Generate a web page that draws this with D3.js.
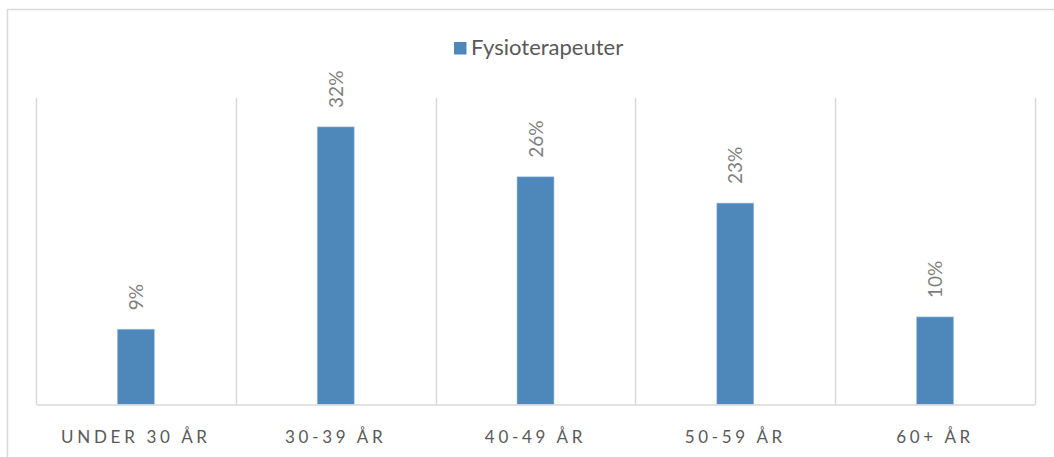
<!DOCTYPE html>
<html>
<head>
<meta charset="utf-8">
<script src="https://cdn.jsdelivr.net/npm/d3@7"></script>
<style>
  html, body { margin: 0; padding: 0; background: #fff; }
  svg { display: block; }
</style>
</head>
<body>
<svg id="chart" width="1054" height="457"></svg>
<script>
const categories = ["UNDER 30 ÅR", "30-39 ÅR", "40-49 ÅR", "50-59 ÅR", "60+ ÅR"];
const values = [8.6, 31.7, 26.0, 23.0, 10.0];
const valueLabels = ["9%", "32%", "26%", "23%", "10%"];
const seriesName = "Fysioterapeuter";
const yMax = 35;

const W = 1054, H = 457;
const svg = d3.select("#chart");
const font = "Lato, 'Open Sans', sans-serif";
const barColor = "#4e88bb";
const gridColor = "#d9d9d9";
const textColor = "#595959";

// chart border
svg.append("rect")
  .attr("x", 7.5).attr("y", 9.5)
  .attr("width", W + 10).attr("height", H + 10)
  .attr("fill", "#fff").attr("stroke", gridColor).attr("stroke-width", 1.5);

const plot = { left: 36, right: 1035, top: 98, bottom: 404.5 };

const x = d3.scaleBand().domain(categories).range([plot.left, plot.right]).padding(0);
const y = d3.scaleLinear().domain([0, yMax]).range([plot.bottom, plot.top]);

// vertical gridlines at category boundaries
const bounds = categories.map(c => x(c)).concat([plot.right]);
svg.append("g").selectAll("line").data(bounds).join("line")
  .attr("x1", d => Math.round(d) + 0.5).attr("x2", d => Math.round(d) + 0.5)
  .attr("y1", plot.top).attr("y2", plot.bottom)
  .attr("stroke", gridColor).attr("stroke-width", 1.5);

// bars
const barW = x.bandwidth() * 0.185;
svg.append("g").selectAll("rect").data(values).join("rect")
  .attr("x", (d, i) => x(categories[i]) + (x.bandwidth() - barW) / 2)
  .attr("y", d => y(d))
  .attr("width", barW)
  .attr("height", d => y(0) - y(d))
  .attr("fill", barColor)
  .attr("stroke", "#a9c4e0").attr("stroke-width", 0.6);

// baseline axis
const xAxis = d3.axisBottom(x).tickSize(0).tickPadding(0);
const ax = svg.append("g").attr("transform", `translate(0,${plot.bottom})`).call(xAxis);
ax.select(".domain").attr("stroke", gridColor).attr("stroke-width", 1.5);
ax.selectAll("text")
  .attr("dy", null)
  .attr("y", 38)
  .attr("fill", textColor)
  .style("font-family", font)
  .style("font-size", "17px")
  .style("letter-spacing", "3.7px");

// value labels (rotated)
svg.append("g").selectAll("text").data(values).join("text")
  .attr("transform", (d, i) => {
    const cx = x(categories[i]) + x.bandwidth() / 2;
    return `translate(${cx + 7},${y(d) - 19}) rotate(-90)`;
  })
  .attr("text-anchor", "start")
  .attr("fill", "#7f7f7f")
  .style("font-family", font)
  .style("font-size", "19px")
  .text((d, i) => valueLabels[i]);

// legend
const lg = svg.append("g").attr("transform", "translate(454,42)");
lg.append("rect").attr("width", 12.5).attr("height", 12.5).attr("fill", barColor);
lg.append("text").attr("x", 17).attr("y", 12.5)
  .attr("fill", textColor)
  .style("font-family", font)
  .style("font-size", "22px")
  .text(seriesName);
</script>
</body>
</html>
